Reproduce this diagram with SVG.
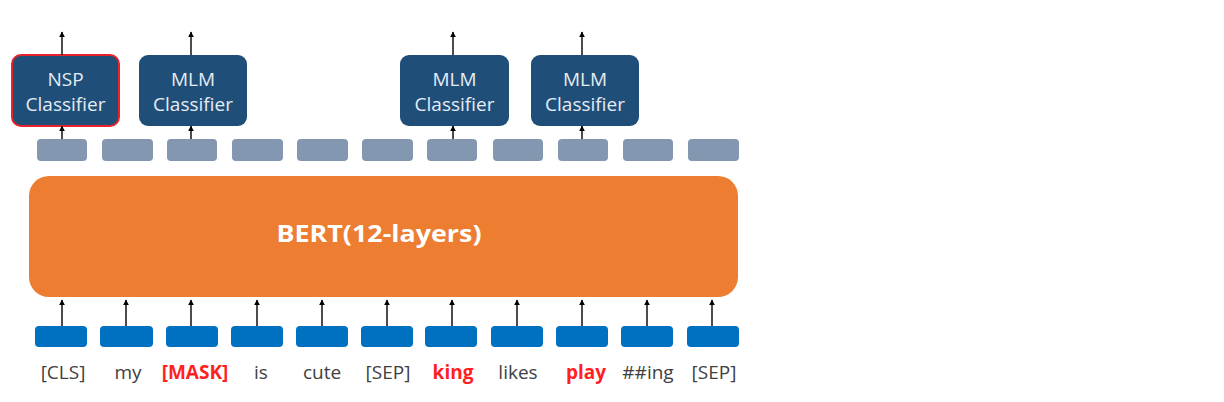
<svg xmlns="http://www.w3.org/2000/svg" width="1224" height="402" viewBox="0 0 1224 402">
<style>
.cls{fill:#1F4E79;}
.ct{font-family:"Open Sans","Noto Sans",sans-serif;font-size:19px;fill:#E6ECF3;text-anchor:middle;}
.hid{fill:#8497B0;}
.inp{fill:#0070C0;}
.lbl{font-family:"Open Sans","Noto Sans",sans-serif;font-size:19px;fill:#404040;text-anchor:middle;}
.red{fill:#FF1F1F;font-weight:bold;}
.ar{stroke:#000;stroke-width:1.4;fill:none;marker-end:url(#ah);}
</style>
<defs>
<marker id="ah" viewBox="0 0 10 10" refX="9" refY="5" markerWidth="6" markerHeight="6" orient="auto" markerUnits="userSpaceOnUse">
<path d="M0,0 L10,5 L0,10 z" fill="#000"/>
</marker>
</defs>
<rect width="1224" height="402" fill="#fff"/>
<g id="bert">
<rect x="29" y="176" width="709" height="121" rx="20" fill="#ED7D31"/>
<text x="379" y="242" font-family="Open Sans, Noto Sans, sans-serif" font-size="23" font-weight="bold" fill="#fff" text-anchor="middle" textLength="205" lengthAdjust="spacingAndGlyphs">BERT(12-layers)</text>
</g>
<g id="classifiers">
<g id="nsp"><rect x="12" y="55" width="107" height="71" rx="9" class="cls" stroke="#E8222A" stroke-width="2"/><text class="ct" x="65.5" y="86">NSP</text><text class="ct" x="65.5" y="111">Classifier</text></g>
<g id="mlm1"><rect x="139" y="55" width="108" height="71" rx="9" class="cls"/><text class="ct" x="193" y="86">MLM</text><text class="ct" x="193" y="111">Classifier</text></g>
<g id="mlm2"><rect x="400" y="55" width="109" height="71" rx="9" class="cls"/><text class="ct" x="454.5" y="86">MLM</text><text class="ct" x="454.5" y="111">Classifier</text></g>
<g id="mlm3"><rect x="531" y="55" width="108" height="71" rx="9" class="cls"/><text class="ct" x="585" y="86">MLM</text><text class="ct" x="585" y="111">Classifier</text></g>
</g>
<g id="hidden">
<rect class="hid" x="37" y="139" width="50" height="22" rx="4"/>
<rect class="hid" x="102" y="139" width="51" height="22" rx="4"/>
<rect class="hid" x="167" y="139" width="50" height="22" rx="4"/>
<rect class="hid" x="232" y="139" width="51" height="22" rx="4"/>
<rect class="hid" x="297" y="139" width="51" height="22" rx="4"/>
<rect class="hid" x="362" y="139" width="51" height="22" rx="4"/>
<rect class="hid" x="427" y="139" width="50" height="22" rx="4"/>
<rect class="hid" x="493" y="139" width="50" height="22" rx="4"/>
<rect class="hid" x="558" y="139" width="50" height="22" rx="4"/>
<rect class="hid" x="623" y="139" width="50" height="22" rx="4"/>
<rect class="hid" x="688" y="139" width="51" height="22" rx="4"/>
</g>
<g id="inputs">
<rect class="inp" x="35" y="326" width="52" height="21" rx="4"/>
<rect class="inp" x="100" y="326" width="53" height="21" rx="4"/>
<rect class="inp" x="166" y="326" width="52" height="21" rx="4"/>
<rect class="inp" x="231" y="326" width="52" height="21" rx="4"/>
<rect class="inp" x="296" y="326" width="52" height="21" rx="4"/>
<rect class="inp" x="361" y="326" width="52" height="21" rx="4"/>
<rect class="inp" x="425" y="326" width="52" height="21" rx="4"/>
<rect class="inp" x="491" y="326" width="52" height="21" rx="4"/>
<rect class="inp" x="556" y="326" width="52" height="21" rx="4"/>
<rect class="inp" x="621" y="326" width="52" height="21" rx="4"/>
<rect class="inp" x="687" y="326" width="52" height="21" rx="4"/>
</g>
<g id="labels">
<text class="lbl" x="63" y="379">[CLS]</text>
<text class="lbl" x="128" y="379">my</text>
<text class="lbl red" x="195" y="379">[MASK]</text>
<text class="lbl" x="261" y="379">is</text>
<text class="lbl" x="322" y="379">cute</text>
<text class="lbl" x="388" y="379">[SEP]</text>
<text class="lbl red" x="453" y="379">king</text>
<text class="lbl" x="518" y="379">likes</text>
<text class="lbl red" x="586" y="379">play</text>
<text class="lbl" x="648" y="379">##ing</text>
<text class="lbl" x="714" y="379">[SEP]</text>
</g>
<g id="connectors">
<line class="ar" x1="62" y1="55" x2="62" y2="32"/>
<line class="ar" x1="191" y1="55" x2="191" y2="32"/>
<line class="ar" x1="453" y1="55" x2="453" y2="32"/>
<line class="ar" x1="582" y1="55" x2="582" y2="32"/>
<line class="ar" x1="62" y1="139" x2="62" y2="126"/>
<line class="ar" x1="191" y1="139" x2="191" y2="126"/>
<line class="ar" x1="453" y1="139" x2="453" y2="126"/>
<line class="ar" x1="582" y1="139" x2="582" y2="126"/>
<line class="ar" x1="62" y1="326" x2="62" y2="300"/>
<line class="ar" x1="126" y1="326" x2="126" y2="300"/>
<line class="ar" x1="191" y1="326" x2="191" y2="300"/>
<line class="ar" x1="257" y1="326" x2="257" y2="300"/>
<line class="ar" x1="322" y1="326" x2="322" y2="300"/>
<line class="ar" x1="387" y1="326" x2="387" y2="300"/>
<line class="ar" x1="452" y1="326" x2="452" y2="300"/>
<line class="ar" x1="517" y1="326" x2="517" y2="300"/>
<line class="ar" x1="582" y1="326" x2="582" y2="300"/>
<line class="ar" x1="647" y1="326" x2="647" y2="300"/>
<line class="ar" x1="712" y1="326" x2="712" y2="300"/>
</g>
</svg>
